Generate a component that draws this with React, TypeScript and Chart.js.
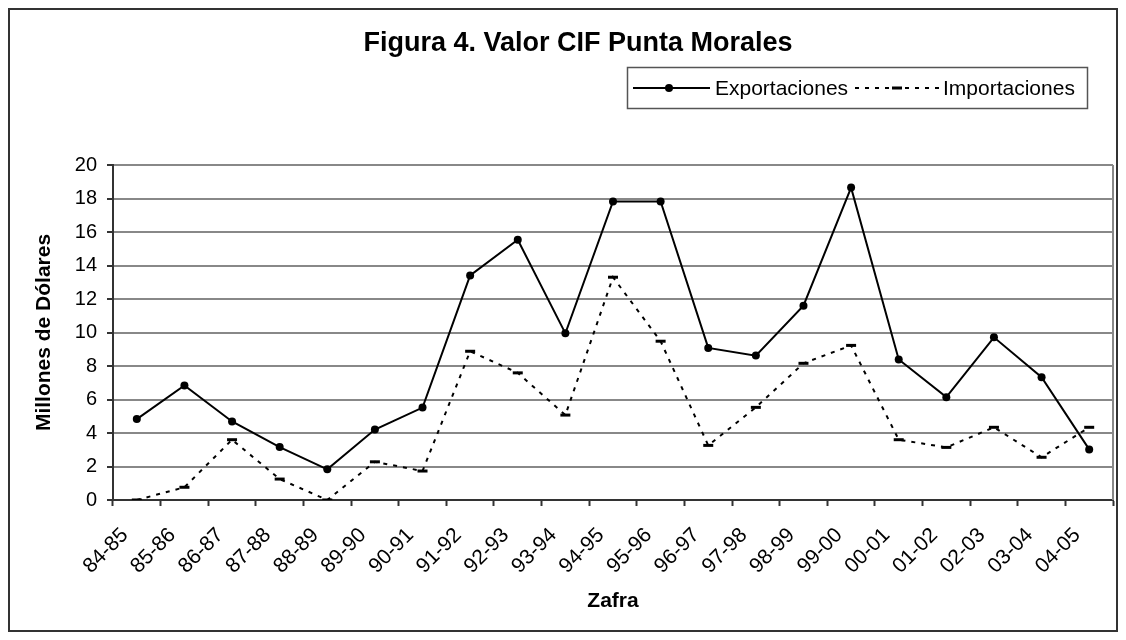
import React, { useEffect, useRef } from "react";
import { Chart, registerables } from "chart.js";

Chart.register(...registerables);

const categories = [
  "84-85", "85-86", "86-87", "87-88", "88-89", "89-90", "90-91",
  "91-92", "92-93", "93-94", "94-95", "95-96", "96-97", "97-98",
  "98-99", "99-00", "00-01", "01-02", "02-03", "03-04", "04-05",
];

const exportaciones = [
  4.83, 6.84, 4.69, 3.16, 1.83, 4.21, 5.52, 13.41, 15.54, 9.95, 17.82,
  17.82, 9.08, 8.62, 11.6, 18.65, 8.39, 6.14, 9.71, 7.33, 3.02,
];

const importaciones = [
  0, 0.76, 3.6, 1.25, 0, 2.28, 1.73, 8.88, 7.59, 5.07, 13.3, 9.48, 3.26,
  5.53, 8.16, 9.23, 3.6, 3.14, 4.34, 2.55, 4.34,
];

const seriesNames = ["Exportaciones", "Importaciones"];
const chartTitle = "Figura 4. Valor CIF Punta Morales";
const yTitle = "Millones de Dólares";
const xTitle = "Zafra";

const FONT = '"Liberation Sans", Arial, sans-serif';

const framePlugin = {
  id: "frame",
  beforeDraw(chart: any) {
    const ctx = chart.ctx;
    ctx.save();
    ctx.fillStyle = "#fff";
    ctx.fillRect(0, 0, chart.width, chart.height);
    ctx.strokeStyle = "#333";
    ctx.lineWidth = 2;
    ctx.strokeRect(9, 9, 1108, 622);
    ctx.restore();
  },
  afterDraw(chart: any) {
    const ctx = chart.ctx;
    const a = chart.chartArea;
    ctx.save();
    // title
    ctx.fillStyle = "#000";
    ctx.font = "bold 27px " + FONT;
    ctx.textAlign = "center";
    ctx.textBaseline = "middle";
    ctx.fillText(chartTitle, 578, 44);

    // right border of plot area
    ctx.strokeStyle = "#888";
    ctx.lineWidth = 2;
    ctx.beginPath();
    ctx.moveTo(a.right, a.top);
    ctx.lineTo(a.right, a.bottom);
    ctx.stroke();

    // legend box
    const ds = chart.data.datasets;
    ctx.strokeStyle = "#555";
    ctx.lineWidth = 1.5;
    ctx.strokeRect(627.5, 67.5, 460, 41);
    const y = 88;
    ctx.font = "21px " + FONT;
    ctx.textBaseline = "middle";
    ctx.textAlign = "left";
    ctx.fillStyle = "#000";

    ctx.setLineDash([]);
    ctx.lineWidth = 2;
    ctx.strokeStyle = "#000";
    ctx.beginPath();
    ctx.moveTo(633, y);
    ctx.lineTo(710, y);
    ctx.stroke();
    ctx.beginPath();
    ctx.arc(669, y, 4, 0, Math.PI * 2);
    ctx.fill();
    ctx.fillText(ds[0].label, 715, y + 1);

    ctx.setLineDash([4, 6]);
    ctx.beginPath();
    ctx.moveTo(855, y);
    ctx.lineTo(940, y);
    ctx.stroke();
    ctx.setLineDash([]);
    ctx.lineWidth = 3;
    ctx.beginPath();
    ctx.moveTo(892, y);
    ctx.lineTo(902, y);
    ctx.stroke();
    ctx.fillText(ds[1].label, 943, y + 1);
    ctx.restore();
  },
};

export default function App() {
  const ref = useRef<HTMLCanvasElement | null>(null);

  useEffect(() => {
    if (!ref.current) return;
    const chart = new Chart(ref.current, {
      type: "line",
      data: {
        labels: categories,
        datasets: [
          {
            label: seriesNames[0],
            data: exportaciones,
            borderColor: "#000",
            backgroundColor: "#000",
            borderWidth: 2,
            pointStyle: "circle",
            pointRadius: 4,
            pointBorderWidth: 0,
            pointBackgroundColor: "#000",
            tension: 0,
          },
          {
            label: seriesNames[1],
            data: importaciones,
            borderColor: "#000",
            backgroundColor: "#000",
            borderWidth: 2,
            borderDash: [4, 6],
            pointStyle: "line",
            pointRadius: 5,
            pointBorderWidth: 3,
            pointBorderColor: "#000",
            tension: 0,
          },
        ],
      },
      options: {
        responsive: false,
        animation: false,
        layout: { padding: { left: 0, right: 13, top: 165, bottom: 0 } },
        plugins: {
          legend: { display: false },
          tooltip: { enabled: false },
          title: { display: false },
        },
        scales: {
          x: {
            offset: true,
            grid: {
              offset: true,
              drawOnChartArea: false,
              drawTicks: true,
              tickLength: 6,
              tickColor: "#333",
              tickWidth: 2,
            },
            border: { color: "#333", width: 2 },
            ticks: {
              color: "#000",
              font: { family: FONT, size: 21 },
              minRotation: 45,
              maxRotation: 45,
              autoSkip: false,
              padding: 17,
              labelOffset: -12,
            },
            title: {
              display: true,
              text: xTitle,
              color: "#000",
              font: { family: FONT, size: 21, weight: "bold" },
              padding: { top: 0, bottom: 26 },
            },
            afterFit(scale: any) {
              scale.height = 140;
            },
          },
          y: {
            min: 0,
            max: 20,
            ticks: {
              stepSize: 2,
              color: "#000",
              font: { family: FONT, size: 20 },
              padding: 10,
            },
            grid: {
              color: "#888",
              lineWidth: 2,
              tickColor: "#333",
              tickLength: 6,
              tickWidth: 2,
            },
            border: { color: "#333", width: 2 },
            title: {
              display: true,
              text: yTitle,
              color: "#000",
              font: { family: FONT, size: 21, weight: "bold" },
              padding: { top: 32, bottom: 0 },
            },
            afterFit(scale: any) {
              scale.width = 113;
            },
          },
        },
      },
      plugins: [framePlugin],
    });
    return () => chart.destroy();
  }, []);

  return (
    <div style={{ position: "absolute", left: 0, top: 0, width: 1126, height: 640 }}>
      <canvas ref={ref} width={1126} height={640} style={{ display: "block" }} />
    </div>
  );
}
